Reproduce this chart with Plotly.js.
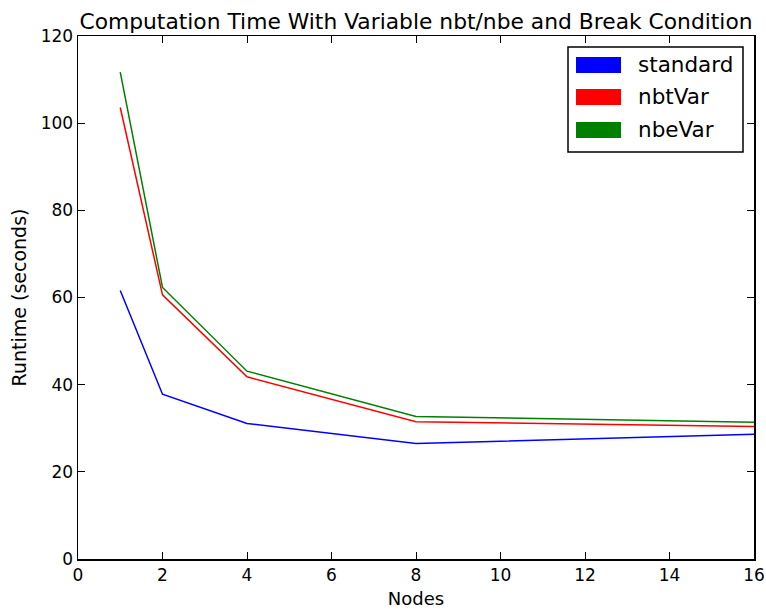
<!DOCTYPE html>
<html><head><meta charset="utf-8">
<script src="https://cdn.plot.ly/plotly-3.0.1.min.js"></script>
<style>html,body{margin:0;padding:0;background:#fff}#chart{width:766px;height:609px}</style>
</head><body><div id="chart"></div>
<script>
var nodes = [1, 2, 4, 8, 16];
var standard = [61.6, 37.8, 31.1, 26.5, 28.6];
var nbtVar = [103.6, 60.6, 41.8, 31.5, 30.4];
var nbeVar = [111.7, 62.3, 43.1, 32.7, 31.4];
var seriesNames = ['standard', 'nbtVar', 'nbeVar'];
var seriesColors = ['#0000ff', '#ff0000', '#008000'];
var xTicks = [0, 2, 4, 6, 8, 10, 12, 14, 16];
var yTicks = [0, 20, 40, 60, 80, 100, 120];

var L = 78, R = 12, T = 36, B = 50, W = 766, H = 609;
var pw = W - L - R, ph = H - T - B;
function px(x) { return (x - L) / pw; }
function py(y) { return (H - B - y) / ph; }

var data = [standard, nbtVar, nbeVar].map(function (s, i) {
  return { x: nodes, y: s, type: 'scatter', mode: 'lines', name: seriesNames[i],
    line: { color: seriesColors[i], width: 1.5 }, showlegend: false, hoverinfo: 'skip' };
});

var shapes = [{ type: 'rect', xref: 'paper', yref: 'paper', x0: px(568), x1: px(743), y0: py(47), y1: py(152),
  line: { color: '#000', width: 1.5 }, fillcolor: '#fff' }];
var annotations = [];
var rowY = [65, 97, 130];
for (var i = 0; i < 3; i++) {
  shapes.push({ type: 'rect', xref: 'paper', yref: 'paper', x0: px(576), x1: px(621),
    y0: py(rowY[i] - 8), y1: py(rowY[i] + 8), line: { width: 0 }, fillcolor: seriesColors[i] });
  annotations.push({ xref: 'paper', yref: 'paper', x: px(636), y: py(rowY[i]), xanchor: 'left', yanchor: 'middle',
    text: seriesNames[i], showarrow: false, font: { size: 21.5, color: '#000', family: 'DejaVu Sans' } });
}

var layout = {
  width: W, height: H,
  margin: { l: L, r: R, t: T, b: B, pad: 0 },
  paper_bgcolor: '#fff', plot_bgcolor: '#fff',
  font: { family: 'DejaVu Sans', color: '#000', size: 17 },
  title: { text: 'Computation Time With Variable nbt/nbe and Break Condition', font: { size: 21.8 },
    x: 0.5, xref: 'paper', xanchor: 'center', y: 1 - 21 / H, yanchor: 'middle' },
  xaxis: { range: [0, 16], tickvals: xTicks, ticktext: xTicks.map(String), ticks: 'inside', ticklen: 7,
    tickcolor: '#000', showline: true, linecolor: '#000', linewidth: 1.5, mirror: 'ticks', showgrid: false,
    zeroline: false, tickfont: { size: 17 }, title: { text: 'Nodes', font: { size: 18 }, standoff: 8 } },
  yaxis: { range: [0, 120], tickvals: yTicks, ticktext: yTicks.map(String), ticks: 'inside', ticklen: 7,
    tickcolor: '#000', showline: true, linecolor: '#000', linewidth: 1.5, mirror: 'ticks', showgrid: false,
    zeroline: false, tickfont: { size: 17 }, title: { text: 'Runtime (seconds)', font: { size: 19 }, standoff: 9 } },
  shapes: shapes, annotations: annotations, showlegend: false
};
Plotly.newPlot('chart', data, layout, { staticPlot: true, displayModeBar: false });
</script></body></html>
